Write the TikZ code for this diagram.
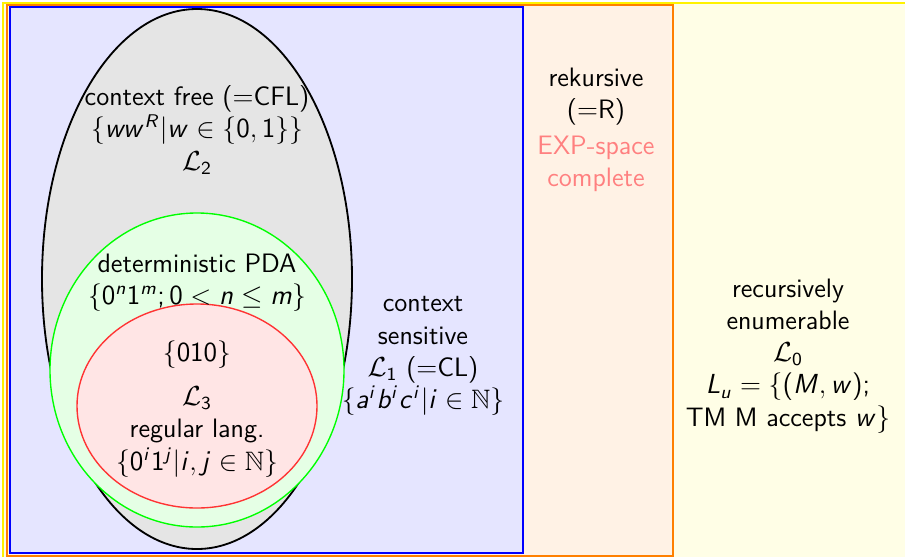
\documentclass[tikz,border=0pt]{standalone}
\usepackage{amssymb}
\usepackage{tikz}
\usetikzlibrary{positioning, shapes.geometric, calc}
% sans serif math, as on slides
\DeclareSymbolFont{sfit}{OT1}{cmss}{m}{sl}
\SetSymbolFont{operators}{normal}{OT1}{cmss}{m}{n}
\DeclareMathSymbol{a}{\mathalpha}{sfit}{`a}
\DeclareMathSymbol{b}{\mathalpha}{sfit}{`b}
\DeclareMathSymbol{c}{\mathalpha}{sfit}{`c}
\DeclareMathSymbol{i}{\mathalpha}{sfit}{`i}
\DeclareMathSymbol{j}{\mathalpha}{sfit}{`j}
\DeclareMathSymbol{m}{\mathalpha}{sfit}{`m}
\DeclareMathSymbol{n}{\mathalpha}{sfit}{`n}
\DeclareMathSymbol{u}{\mathalpha}{sfit}{`u}
\DeclareMathSymbol{w}{\mathalpha}{sfit}{`w}
\DeclareMathSymbol{L}{\mathalpha}{sfit}{`L}
\DeclareMathSymbol{M}{\mathalpha}{sfit}{`M}
\DeclareMathSymbol{R}{\mathalpha}{sfit}{`R}

\begin{document}
\begin{tikzpicture}[x=0.0153cm, y=-0.0153cm,
  lang/.style={align=center, font=\fontsize{11.6}{14}\selectfont\sffamily, inner sep=1pt},
  hint/.style={lang, text=red!50}]
  \useasboundingbox (0,0) rectangle (905,556);
  % classes as nested regions
  \draw[yellow, line width=1.2pt, fill=yellow!10] (3,3) rectangle (920,570);
  \draw[orange, line width=0.9pt, fill=orange!10] (7,5) rectangle (673,556);
  \draw[blue, line width=0.9pt, fill=blue!10] (10,7) rectangle (523,553);
  \draw[black, thick, fill=black!10] (197,279) ellipse [x radius=155, y radius=270];
  \draw[green, semithick, fill=green!10] (197,370) ellipse [x radius=147, y radius=157];
  \draw[red!80, semithick, fill=red!10] (197,406) ellipse [x radius=120, y radius=102];

  \node[lang] (cfl) at (197,130) {context free ($=$CFL)\\$\{ww^R|w\in\{0,1\}\}$\\$\mathcal{L}_2$};
  \node[lang] (dpda) at (197,283) {deterministic PDA\\$\{0^n1^m;0<n\leq m\}$};
  \node[lang] (ex) at (197,355) {$\{010\}$};
  \node[lang] (reg) at (197,432) {$\mathcal{L}_3$\\regular lang.\\$\{0^i1^j|i,j\in\mathbb{N}\}$};
  \node[lang] (cs) at (423,356) {context\\sensitive\\$\mathcal{L}_1$ ($=$CL)\\$\{a^ib^ic^i|i\in\mathbb{N}\}$};
  \node[lang] (rek) at (596,97) {rekursive\\($=$R)};
  \node[hint, below=2pt of rek] (exp) {EXP-space\\complete};
  \node[lang] (re) at (788,356) {recursively\\enumerable\\$\mathcal{L}_0$\\$L_u=\{(M,w);$\\TM M accepts $w\}$};
\end{tikzpicture}
\end{document}
